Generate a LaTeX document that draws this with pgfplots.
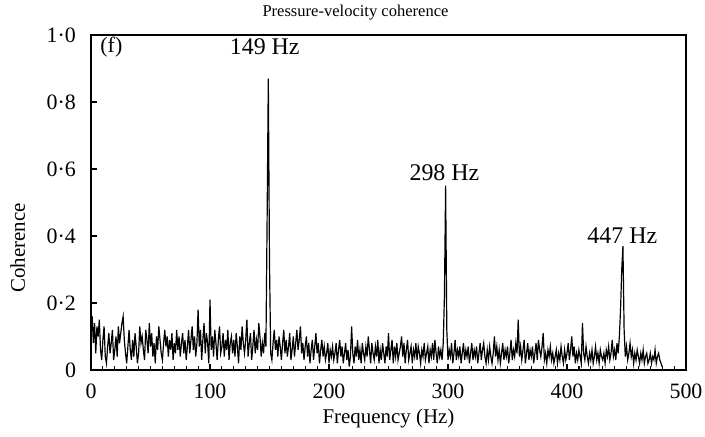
\documentclass[border=0pt]{standalone}
\usepackage{pgfplots}
\pgfplotsset{compat=1.18}
\usepackage{fontspec}
\setmainfont{Liberation Serif}
\begin{document}
\begin{tikzpicture}
\begin{axis}[
  scale only axis, width=297.5bp, height=167.5bp,
  xmin=0, xmax=500, ymin=0, ymax=1,
  axis line style={line width=0.8pt},
  tick align=inside, xtick pos=bottom, ytick pos=left,
  major tick length=3bp, minor tick length=2bp,
  tick style={black, line width=0.6pt},
  xtick={0,100,200,300,400,500},
  xticklabels={0,100,200,300,400,500},
  minor x tick num=9,
  ytick={0,0.2,0.4,0.6,0.8,1.0},
  yticklabels={0,0·2,0·4,0·6,0·8,1·0},
  xticklabel style={font=\fontsize{11}{13}\selectfont, yshift=-3.5bp},
  yticklabel style={font=\fontsize{11}{13}\selectfont, xshift=-4bp},
  xlabel={Frequency (Hz)}, ylabel={Coherence},
  xlabel style={font=\fontsize{10.5}{12}\selectfont, yshift=2bp},
  ylabel style={font=\fontsize{10.5}{12}\selectfont, at={(ticklabel cs:0.364,4bp)}},
  title={Pressure-velocity coherence},
  title style={font=\fontsize{8.3}{10}\selectfont, yshift=-2bp, xshift=-16.5bp},
  clip=false,
]
\addplot[black, line width=0.6pt] coordinates {
(0,.12)(1,.16)(2,.08)(3,.14)(4,.05)(5,.13)(6,.10)(7,.15)(8,.06)(9,.03)
(10,.09)(11,.13)(12,.04)(13,.02)(14,.07)(15,.11)(16,.05)(17,.08)(18,.12)(19,.03)
(20,.06)(21,.10)(22,.04)(23,.13)(24,.08)(25,.11)(26,.14)(27,.16)(28,.09)(29,.05)
(30,.02)(31,.07)(32,.12)(33,.06)(34,.03)(35,.09)(36,.04)(37,.11)(38,.07)(39,.02)
(40,.05)(41,.13)(42,.08)(43,.10)(44,.06)(45,.03)(46,.12)(47,.09)(48,.05)(49,.14)
(50,.07)(51,.11)(52,.04)(53,.08)(54,.02)(55,.10)(56,.06)(57,.13)(58,.09)(59,.05)
(60,.03)(61,.08)(62,.12)(63,.07)(64,.10)(65,.04)(66,.09)(67,.06)(68,.11)(69,.03)
(70,.08)(71,.05)(72,.12)(73,.06)(74,.10)(75,.04)(76,.08)(77,.11)(78,.05)(79,.09)
(80,.03)(81,.07)(82,.12)(83,.05)(84,.09)(85,.13)(86,.06)(87,.10)(88,.04)(89,.08)
(90,.18)(91,.07)(92,.12)(93,.03)(94,.09)(95,.14)(96,.05)(97,.11)(98,.08)(99,.02)
(100,.21)(101,.06)(102,.10)(103,.04)(104,.12)(105,.08)(106,.03)(107,.09)(108,.13)(109,.05)
(110,.07)(111,.11)(112,.04)(113,.09)(114,.06)(115,.12)(116,.03)(117,.08)(118,.10)(119,.05)
(120,.09)(121,.04)(122,.11)(123,.07)(124,.02)(125,.10)(126,.06)(127,.13)(128,.08)(129,.05)
(130,.09)(131,.15)(132,.04)(133,.08)(134,.11)(135,.03)(136,.07)(137,.12)(138,.05)(139,.09)
(140,.06)(141,.14)(142,.10)(143,.04)(144,.08)(145,.05)(146,.11)(147,.07)(148,.45)(149,.87)
(150,.32)(151,.05)(152,.03)(153,.08)(154,.12)(155,.06)(156,.09)(157,.04)(158,.10)(159,.07)
(160,.03)(161,.08)(162,.12)(163,.05)(164,.09)(165,.04)(166,.07)(167,.11)(168,.03)(169,.06)
(170,.10)(171,.04)(172,.08)(173,.12)(174,.06)(175,.09)(176,.13)(177,.05)(178,.08)(179,.03)
(180,.07)(181,.10)(182,.04)(183,.08)(184,.02)(185,.06)(186,.09)(187,.03)(188,.07)(189,.11)
(190,.05)(191,.08)(192,.02)(193,.06)(194,.09)(195,.04)(196,.07)(197,.03)(198,.05)(199,.08)
(200,.02)(201,.06)(202,.04)(203,.07)(204,.03)(205,.05)(206,.08)(207,.02)(208,.06)(209,.09)
(210,.04)(211,.07)(212,.02)(213,.05)(214,.08)(215,.03)(216,.06)(217,.01)(218,.04)(219,.13)
(220,.05)(221,.02)(222,.07)(223,.04)(224,.09)(225,.03)(226,.06)(227,.02)(228,.08)(229,.05)
(230,.03)(231,.07)(232,.04)(233,.10)(234,.06)(235,.02)(236,.08)(237,.05)(238,.03)(239,.07)
(240,.04)(241,.09)(242,.02)(243,.06)(244,.03)(245,.08)(246,.05)(247,.02)(248,.07)(249,.04)
(250,.11)(251,.03)(252,.06)(253,.09)(254,.02)(255,.07)(256,.04)(257,.08)(258,.03)(259,.05)
(260,.07)(261,.10)(262,.04)(263,.08)(264,.02)(265,.06)(266,.09)(267,.03)(268,.05)(269,.07)
(270,.02)(271,.06)(272,.04)(273,.08)(274,.03)(275,.07)(276,.05)(277,.02)(278,.06)(279,.04)
(280,.08)(281,.03)(282,.05)(283,.07)(284,.02)(285,.06)(286,.04)(287,.08)(288,.03)(289,.09)
(290,.05)(291,.02)(292,.07)(293,.04)(294,.06)(295,.03)(296,.08)(297,.22)(298,.55)(299,.12)
(300,.03)(301,.06)(302,.04)(303,.08)(304,.02)(305,.05)(306,.09)(307,.03)(308,.06)(309,.04)
(310,.07)(311,.02)(312,.05)(313,.08)(314,.03)(315,.06)(316,.04)(317,.07)(318,.02)(319,.05)
(320,.08)(321,.03)(322,.06)(323,.04)(324,.07)(325,.02)(326,.05)(327,.08)(328,.03)(329,.06)
(330,.08)(331,.04)(332,.02)(333,.06)(334,.03)(335,.07)(336,.04)(337,.02)(338,.05)(339,.10)
(340,.04)(341,.07)(342,.03)(343,.06)(344,.02)(345,.05)(346,.08)(347,.03)(348,.06)(349,.04)
(350,.07)(351,.02)(352,.05)(353,.09)(354,.03)(355,.06)(356,.04)(357,.08)(358,.05)(359,.15)
(360,.04)(361,.07)(362,.03)(363,.06)(364,.09)(365,.02)(366,.05)(367,.08)(368,.03)(369,.06)
(370,.04)(371,.07)(372,.02)(373,.05)(374,.08)(375,.03)(376,.09)(377,.06)(378,.04)(379,.07)
(380,.11)(381,.03)(382,.05)(383,.02)(384,.06)(385,.04)(386,.07)(387,.03)(388,.05)(389,.02)
(390,.04)(391,.06)(392,.02)(393,.05)(394,.03)(395,.07)(396,.04)(397,.02)(398,.06)(399,.03)
(400,.05)(401,.08)(402,.03)(403,.06)(404,.10)(405,.04)(406,.07)(407,.02)(408,.05)(409,.03)
(410,.06)(411,.04)(412,.02)(413,.14)(414,.05)(415,.03)(416,.07)(417,.04)(418,.02)(419,.05)
(420,.03)(421,.06)(422,.02)(423,.04)(424,.07)(425,.03)(426,.05)(427,.02)(428,.06)(429,.04)
(430,.03)(431,.05)(432,.02)(433,.06)(434,.04)(435,.07)(436,.03)(437,.05)(438,.09)(439,.04)
(440,.06)(441,.03)(442,.08)(443,.05)(444,.10)(445,.18)(446,.30)(447,.37)(448,.12)(449,.04)
(450,.07)(451,.03)(452,.05)(453,.08)(454,.04)(455,.06)(456,.02)(457,.05)(458,.03)(459,.06)
(460,.04)(461,.02)(462,.05)(463,.03)(464,.06)(465,.02)(466,.04)(467,.05)(468,.02)(469,.03)
(470,.05)(471,.02)(472,.04)(473,.03)(474,.06)(475,.02)(476,.04)(477,.05)(478,.03)(479,.02)
(480,.01)
};
\node[anchor=west, font=\fontsize{11}{13}\selectfont] at (axis cs:2,0.964) {(f)};
\node[font=\fontsize{12}{14}\selectfont] at (axis cs:146,0.964) {149 Hz};
\node[font=\fontsize{12}{14}\selectfont] at (axis cs:297,0.588) {298 Hz};
\node[font=\fontsize{12}{14}\selectfont] at (axis cs:446.5,0.40) {447 Hz};
\coordinate (SW) at (rel axis cs:0,0);
\coordinate (NE) at (rel axis cs:1,1);
\end{axis}
\pgfresetboundingbox
\path ([xshift=-45.5bp,yshift=-33.5bp]SW) rectangle ([xshift=9.5bp,yshift=17.5bp]NE);
\end{tikzpicture}
\end{document}
